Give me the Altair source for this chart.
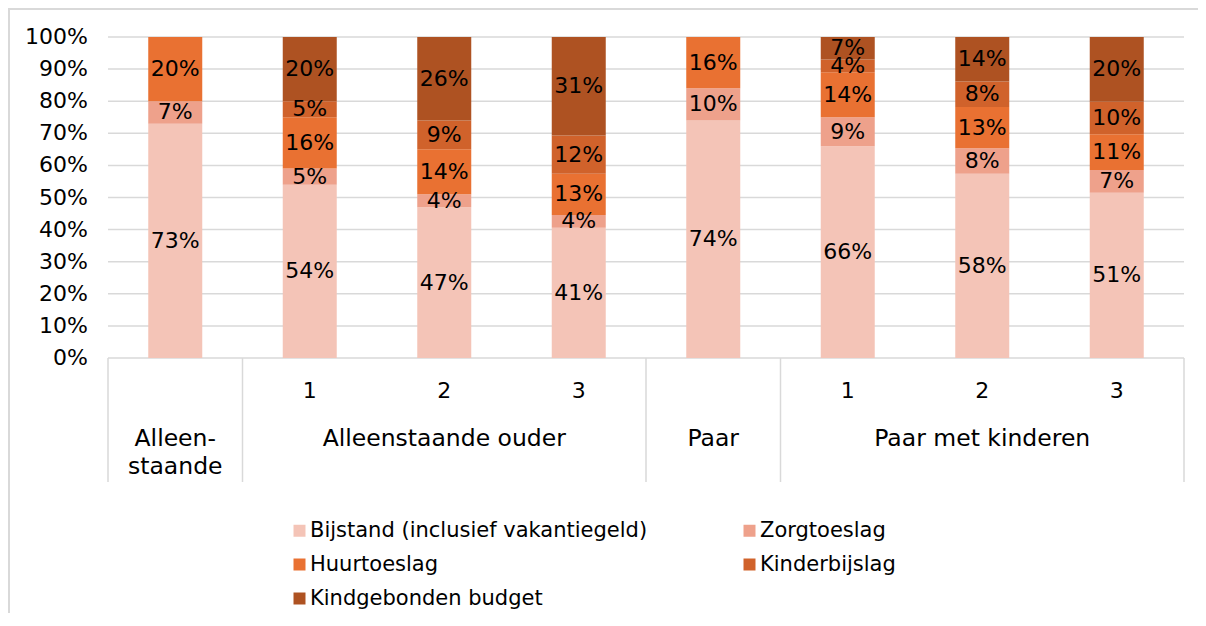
import altair as alt
import pandas as pd

# ---- data -------------------------------------------------------------
categories = ["Alleenstaande", "AO 1", "AO 2", "AO 3", "Paar", "PMK 1", "PMK 2", "PMK 3"]
sub_labels = ["", "1", "2", "3", "", "1", "2", "3"]

group_names = ["Alleen-\nstaande", "Alleenstaande ouder", "Paar", "Paar met kinderen"]
group_anchor = ["Alleenstaande", "AO 2", "Paar", "PMK 2"]      # middle category of each group
group_start = ["Alleenstaande", "AO 1", "Paar", "PMK 1"]       # first category of each group

series = ["Bijstand (inclusief vakantiegeld)", "Zorgtoeslag", "Huurtoeslag",
          "Kinderbijslag", "Kindgebonden budget"]
bijstand = [73, 54, 47, 41, 74, 66, 58, 51]
zorgtoeslag = [7, 5, 4, 4, 10, 9, 8, 7]
huurtoeslag = [20, 16, 14, 13, 16, 14, 13, 11]
kinderbijslag = [0, 5, 9, 12, 0, 4, 8, 10]
kindgebonden = [0, 20, 26, 31, 0, 7, 14, 20]
colors = ["#F4C4B7", "#EEA18B", "#E97132", "#D0622B", "#AE5222"]

# legend fills column by column: this order shows the reference's row-wise layout
legend_order = [0, 2, 4, 1, 3]

y_ticks = [0, 0.1, 0.2, 0.3, 0.4, 0.5, 0.6, 0.7, 0.8, 0.9, 1.0]

# ---- tables -----------------------------------------------------------
values_by_series = [bijstand, zorgtoeslag, huurtoeslag, kinderbijslag, kindgebonden]
rows = []
for si, (name, vals) in enumerate(zip(series, values_by_series)):
    for cat, v in zip(categories, vals):
        rows.append({"cat": cat, "series": name, "order": si, "value": v, "label": f"{v}%"})
df = pd.DataFrame(rows)

sub_df = pd.DataFrame({"cat": categories, "sub": sub_labels})
grp_df = pd.DataFrame({"cat": group_anchor, "grp": group_names})
sep_df = pd.DataFrame({"cat": group_start})
end_df = pd.DataFrame({"cat": [categories[-1]]})
tick_df = pd.DataFrame({"t": y_ticks})

legend_domain = [series[i] for i in legend_order]
legend_range = [colors[i] for i in legend_order]

FONT = "DejaVu Sans"
GRID = "#D9D9D9"

xscale = alt.Scale(domain=categories, paddingInner=0, paddingOuter=0)
yscale = alt.Scale(domain=[0, 1])


def xenc(band=0.5):
    return alt.X("cat:N", sort=categories, scale=xscale, axis=None, bandPosition=band)


# y grid and tick labels drawn from the tick list through the y scale
grid = alt.Chart(tick_df).mark_rule(color=GRID, strokeWidth=1.5).encode(
    x=alt.value(0), x2=alt.value(1076),
    y=alt.Y("t:Q", scale=yscale, axis=None),
)
ylabels = alt.Chart(tick_df).mark_text(fontSize=22, color="black", align="right",
                                       baseline="middle").encode(
    x=alt.value(-20),
    y=alt.Y("t:Q", scale=yscale, axis=None),
    text=alt.Text("t:Q", format=".0%"),
)

base = alt.Chart(df).transform_stack(
    stack="value", groupby=["cat"], as_=["y0", "y1"], offset="normalize",
    sort=[alt.SortField("order", order="ascending")]
).transform_calculate(mid="(datum.y0 + datum.y1) / 2")

bars = base.mark_bar(size=54).encode(
    x=alt.X("cat:N", sort=categories, scale=xscale, axis=None),
    y=alt.Y("y0:Q", scale=yscale, axis=None),
    y2="y1:Q",
    color=alt.Color("series:N", scale=alt.Scale(domain=legend_domain, range=legend_range),
                    legend=alt.Legend(title=None, orient="none", legendX=181, legendY=483,
                                      columns=2, columnPadding=91, rowPadding=12,
                                      symbolType="square", symbolSize=144,
                                      symbolStrokeWidth=0, labelFontSize=21,
                                      labelColor="black", labelLimit=600, labelOffset=0)),
)

labels = base.transform_filter("datum.value > 0").mark_text(
    fontSize=22, color="black", baseline="middle"
).encode(
    x=alt.X("cat:N", sort=categories, scale=xscale, axis=None),
    y=alt.Y("mid:Q", scale=yscale, axis=None),
    text="label:N",
)

sub_text = alt.Chart(sub_df).mark_text(fontSize=22, color="black", baseline="alphabetic").encode(
    x=alt.X("cat:N", sort=categories, scale=xscale, axis=None),
    y=alt.value(361),
    text="sub:N",
)

grp_text = alt.Chart(grp_df).mark_text(fontSize=23.5, color="black", baseline="alphabetic",
                                       lineBreak="\n", lineHeight=28).encode(
    x=alt.X("cat:N", sort=categories, scale=xscale, axis=None),
    y=alt.value(409),
    text="grp:N",
)

seps = alt.Chart(sep_df).mark_rule(color=GRID, strokeWidth=1.5).encode(
    x=xenc(0), y=alt.value(321), y2=alt.value(445)
)
end_sep = alt.Chart(end_df).mark_rule(color=GRID, strokeWidth=1.5).encode(
    x=xenc(1), y=alt.value(321), y2=alt.value(445)
)

frame = alt.Data(values=[{}])
border_top = alt.Chart(frame).mark_rule(color=GRID, strokeWidth=2).encode(
    x=alt.value(-100), x2=alt.value(1300), y=alt.value(-28)
)
border_left = alt.Chart(frame).mark_rule(color=GRID, strokeWidth=2).encode(
    x=alt.value(-99), y=alt.value(-28), y2=alt.value(900)
)

chart = alt.layer(border_top, border_left, grid, ylabels, bars, labels, seps, end_sep,
                  sub_text, grp_text).properties(
    width=1076, height=321, autosize="none",
    padding={"left": 100, "top": 29, "right": 14, "bottom": 255},
).configure(font=FONT).configure_view(strokeWidth=0)

chart.save("out.html", embed_options={"renderer": "svg", "actions": False})
